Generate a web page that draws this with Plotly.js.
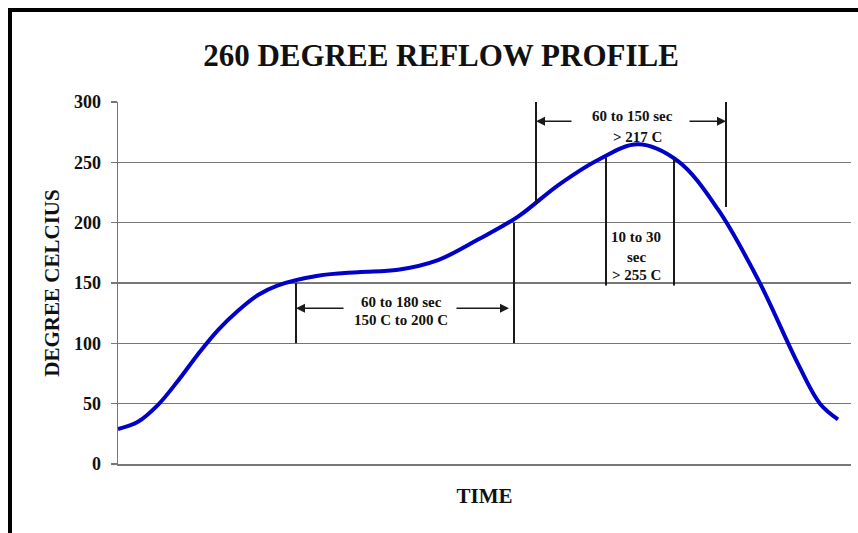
<!DOCTYPE html>
<html>
<head>
<meta charset="utf-8">
<script src="https://cdn.plot.ly/plotly-3.0.1.min.js"></script>
<style>
html,body{margin:0;padding:0;background:#fff;}
#wrap{position:relative;width:858px;height:533px;}
#chart{width:858px;height:533px;}
.bar{position:absolute;background:#000;z-index:10;pointer-events:none;}
#topbar{left:8px;top:8px;width:850px;height:4px;}
#leftbar{left:8px;top:8px;width:4px;height:525px;}
</style>
</head>
<body>
<div id="wrap"><div id="chart"></div><div class="bar" id="topbar"></div><div class="bar" id="leftbar"></div></div>
<script>
// Reflow profile curve (time in arbitrary seconds, temperature in °C)
const timeSec = [0,10,20,30,40,50,60,70,80,100,120,140,160,180,200,220,240,260,280,300,320,340,351,360];
const tempC   = [29,35,49,69,91,111,127,140,148,156,159,161,169,186,205,231,252,265,251,211,153,83,50,37];

const yTicks = [0,50,100,150,200,250,300];

// Marker lines: [time, tempLow, tempHigh]
const soakStart = [89, 100, 150];
const soakEnd   = [198, 100, 200];
const liqStart  = [209, 215, 300];
const liqEnd    = [304, 213, 300];
const peakStart = [244, 148, 254];
const peakEnd   = [278, 148, 253];

const serif = "Liberation Serif, Times New Roman, serif";
const lineCol = '#1a1a1a';

const W = 858, H = 533, L = 118, R = 7, T = 102, B = 69;
const pw = W - L - R;

function vline(p){
  return {type:'line', xref:'x', yref:'y', x0:p[0], x1:p[0], y0:p[1], y1:p[2], line:{color:lineCol, width:2}};
}
function arrow(head, tail, y){
  return {x:head, y:y, ax:tail, ay:y, xref:'x', yref:'y', axref:'x', ayref:'y', text:'', showarrow:true,
          arrowhead:2, arrowsize:1.2, arrowwidth:1.5, arrowcolor:lineCol, standoff:0, startstandoff:0};
}
function label(t, x, y){
  return {x:x, y:y, xref:'x', yref:'y', text:t, showarrow:false,
          font:{family:serif, size:15, color:'#111', weight:700}, xanchor:'center', yanchor:'middle'};
}

const shapes = [
  vline(soakStart), vline(soakEnd), vline(liqStart), vline(liqEnd), vline(peakStart), vline(peakEnd)
];

const annotations = [
  arrow(soakStart[0], 113.5, 129), arrow(soakEnd[0] - 2.5, 168.5, 129),
  arrow(liqStart[0], 227.5, 284), arrow(liqEnd[0], 285, 284),
  label('60 to 180 sec', 141.5, 134), label('150 C to 200 C', 141.5, 119),
  label('60 to 150 sec', 257, 288), label('&gt; 217 C', 259.5, 271),
  label('10 to 30', 259, 188), label('sec', 259, 171.5), label('&gt; 255 C', 259, 156.6)
];

const trace = {
  x: timeSec, y: tempC, type:'scatter', mode:'lines',
  line:{color:'#0000c8', width:4, shape:'spline', smoothing:1},
  hoverinfo:'skip'
};

const layout = {
  width: W, height: H,
  margin:{l:L, r:R, t:T, b:B},
  paper_bgcolor:'#fff', plot_bgcolor:'#fff',
  showlegend:false,
  title:{text:'260 DEGREE REFLOW PROFILE', font:{family:serif, size:31, color:'#111', weight:700},
         xref:'container', yref:'container', x:441/W, y:1-55/H, xanchor:'center', yanchor:'middle'},
  xaxis:{range:[0, pw/2], showgrid:false, zeroline:false, showticklabels:false, ticks:'',
         showline:true, linecolor:'#777', linewidth:1.5, fixedrange:true,
         title:{text:'TIME', font:{family:serif, size:21, color:'#111', weight:700}, standoff:24}},
  yaxis:{range:[0,300], tickvals:yTicks, ticktext:yTicks.map(String), showgrid:true, gridcolor:'#777', gridwidth:1.5,
         zeroline:false, showline:true, linecolor:'#777', linewidth:1.5, ticks:'outside', ticklen:6, tickcolor:'#777', tickwidth:1.5,
         ticklabelstandoff:6,
         tickfont:{family:serif, size:18, color:'#111', weight:700}, fixedrange:true,
         title:{text:'DEGREE CELCIUS', font:{family:serif, size:21, color:'#111', weight:700}, standoff:8}},
  shapes: shapes,
  annotations: annotations
};

Plotly.newPlot('chart', [trace], layout, {staticPlot:true, displayModeBar:false});
</script>
</body>
</html>
